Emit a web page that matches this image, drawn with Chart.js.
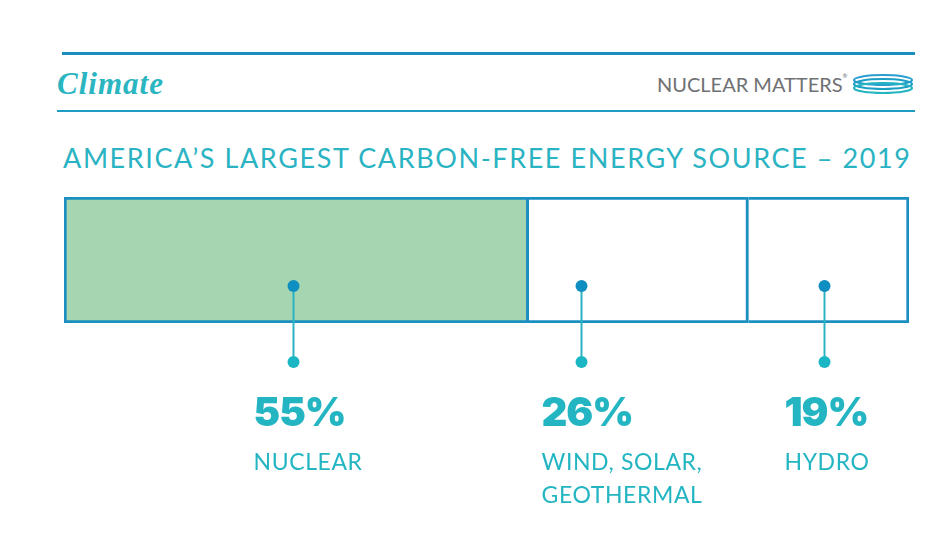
<!DOCTYPE html>
<html><head><meta charset="utf-8">
<script src="https://cdn.jsdelivr.net/npm/chart.js@4"></script>
<style>
html,body{margin:0;padding:0;background:#fff;width:943px;height:533px;overflow:hidden;}
#wrap{position:relative;width:943px;height:533px;}
canvas{position:absolute;left:0;top:0;}
.rule1{position:absolute;left:62px;top:52px;width:853px;height:3px;background:#1a8fbf;}
.rule2{position:absolute;left:57px;top:110px;width:858px;height:2px;background:#1f9cc4;}
#climate{position:absolute;left:57px;top:66px;font:italic bold 31px "Liberation Serif",serif;color:#2bb5c1;}
#brand{position:absolute;left:657px;top:72px;font:400 20px Lato,"Open Sans",sans-serif;color:#707173;white-space:nowrap;}
#brand sup{font-size:6px;vertical-align:top;}
#logo{position:absolute;left:852px;top:71px;}
#title{position:absolute;left:63px;top:141px;font:400 27px Lato,"Open Sans",sans-serif;color:#2ab3c2;white-space:nowrap;}
</style></head>
<body><div id="wrap">
<div class="rule1"></div>
<div id="climate">Climate</div>
<div id="brand">NUCLEAR MATTERS<sup>®</sup></div>
<svg id="logo" width="62" height="26" viewBox="0 0 62 26">
<ellipse cx="31" cy="9" rx="29" ry="5" fill="none" stroke="#2a9fd0" stroke-width="2.2"/>
<ellipse cx="31" cy="13" rx="29" ry="5" fill="none" stroke="#1c9ec5" stroke-width="2.2"/>
<ellipse cx="31" cy="17" rx="29" ry="5" fill="none" stroke="#23b4bf" stroke-width="2.2"/>
</svg>
<div class="rule2"></div>
<div id="title">AMERICA’S LARGEST CARBON-FREE ENERGY SOURCE – 2019</div>
<canvas id="c" width="943" height="533"></canvas>
</div>
<script>
const categories = ["2019"];
const sources = ["NUCLEAR", "WIND, SOLAR, GEOTHERMAL", "HYDRO"];
const labelLines = [["NUCLEAR"], ["WIND, SOLAR,", "GEOTHERMAL"], ["HYDRO"]];
const shares = [55, 26, 19];
const markerPos = [27.1, 61.2, 89.9];
const fills = ["#a6d6b1", "#ffffff", "#ffffff"];

function fitWidth(id, target) {
  const t = document.getElementById(id);
  const w = t.getBoundingClientRect().width;
  const ls = (target - w) / (t.textContent.length - 1);
  t.style.letterSpacing = ls + 'px';
}
fitWidth('title', 847);
fitWidth('climate', 106);

const calloutPlugin = {
  id: 'callouts',
  afterDatasetsDraw(chart) {
    const ctx = chart.ctx;
    const xs = chart.scales.x;
    const area = chart.chartArea;
    const yDot = area.top + (area.bottom - area.top) * 0.706;
    const yLow = area.bottom + 39;
    ctx.save();
    markerPos.forEach((p, i) => {
      const x = Math.round(xs.getPixelForValue(p)) + 0.5;
      ctx.strokeStyle = '#2bb3c4';
      ctx.lineWidth = 2;
      ctx.beginPath(); ctx.moveTo(x, yDot); ctx.lineTo(x, yLow); ctx.stroke();
      ctx.fillStyle = '#0f8fc1';
      ctx.beginPath(); ctx.arc(x, yDot, 6, 0, Math.PI * 2); ctx.fill();
      ctx.fillStyle = '#1ab6c4';
      ctx.beginPath(); ctx.arc(x, yLow, 6, 0, Math.PI * 2); ctx.fill();
      const lx = x - 40;
      ctx.fillStyle = '#23b5c2';
      ctx.textBaseline = 'alphabetic';
      ctx.textAlign = 'left';
      ctx.letterSpacing = '-1px';
      ctx.font = '900 40px Inter, Lato, sans-serif';
      ctx.fillText(shares[i] + '%', lx, yLow + 64);
      ctx.letterSpacing = '0.6px';
      ctx.font = '400 23px Lato, "Open Sans", sans-serif';
      labelLines[i].forEach((ln, k) => ctx.fillText(ln, lx, yLow + 108 + k * 33));
    });
    ctx.restore();
  }
};

const datasets = sources.map((s, i) => ({
  label: s,
  data: [shares[i]],
  backgroundColor: fills[i],
  borderColor: '#1a8fc0',
  borderWidth: {top: 3, bottom: 3, left: i === 0 ? 3 : 0, right: 3},
  borderSkipped: false,
  categoryPercentage: 1,
  barPercentage: 1
}));

new Chart(document.getElementById('c'), {
  type: 'bar',
  data: { labels: categories, datasets },
  options: {
    indexAxis: 'y',
    responsive: false,
    animation: false,
    layout: { padding: { left: 64, right: 34, top: 197, bottom: 210 } },
    plugins: { legend: { display: false }, tooltip: { enabled: false } },
    scales: {
      x: { stacked: true, min: 0, max: 100, display: false },
      y: { stacked: true, display: false }
    }
  },
  plugins: [calloutPlugin]
});
</script>
</body></html>
